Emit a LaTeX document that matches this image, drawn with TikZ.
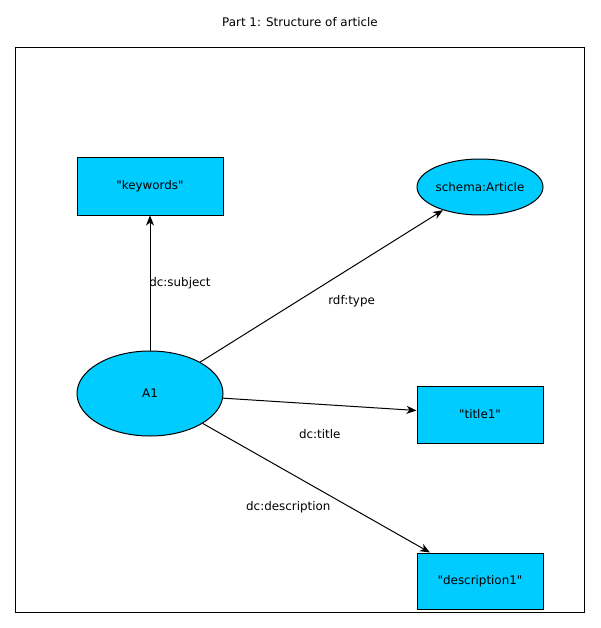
\documentclass[tikz,border=0pt]{standalone}
\usepackage{fontspec}
\setmainfont{DejaVu Sans}
\usetikzlibrary{shapes.geometric,arrows.meta}
\definecolor{skyblue}{RGB}{0,204,255}
\newcommand{\qtext}[1]{\textquotedbl#1\textquotedbl}

\begin{document}
\begin{tikzpicture}[x=1pt,y=-1pt,line width=1pt,
    every node/.style={font=\fontsize{11.9}{14}\selectfont,inner sep=0pt},
    res/.style={draw=black,fill=skyblue,ellipse},
    lit/.style={draw=black,fill=skyblue,rectangle},
    rel/.style={-{Stealth[length=10pt,width=8pt,inset=3pt]}}]
            \useasboundingbox (0,0) rectangle (600,628);
            \node (T) at (300,22) {Part 1: Structure of article};
            \draw (15,48) rectangle (584,612);

            \node[lit,minimum width=146pt,minimum height=57pt] (K) at (150,186.5) {\qtext{keywords}};
            \node[res,minimum width=126pt,minimum height=56pt] (S) at (480,187) {schema:Article};
            \node[res,minimum width=146pt,minimum height=85pt] (A) at (150,393.5) {A1};
            \node[lit,minimum width=126pt,minimum height=57pt] (L) at (480,414.5) {\qtext{title1}};
            \node[lit,minimum width=126pt,minimum height=56pt] (D) at (480,581) {\qtext{description1}};

            \path [rel] (A) edge node[xshift=30pt] (subj) {dc:subject} (K);
            \path [rel] (A) edge node[xshift=30pt,yshift=-15pt] (type) {rdf:type} (S);
            \path [rel] (A) edge node[yshift=-30pt] (tit) {dc:title} (L);
            \path [rel] (A) edge node[xshift=-28pt,yshift=-19pt] (desc) {dc:description} (D);
        \end{tikzpicture}
\end{document}
